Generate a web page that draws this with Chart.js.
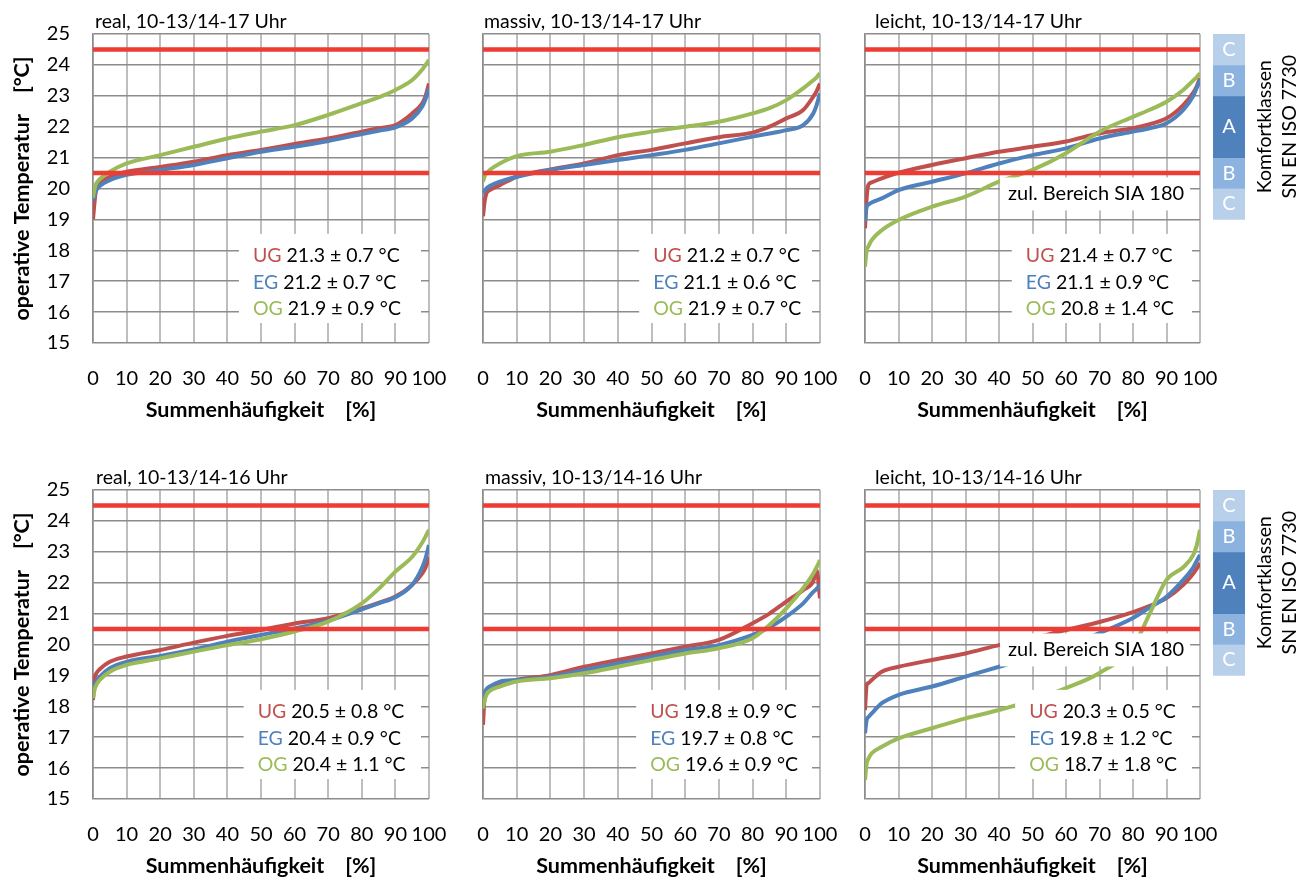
<!DOCTYPE html>
<html>
<head>
<meta charset="utf-8">
<script src="https://cdn.jsdelivr.net/npm/chart.js@4"></script>
<style>
  body { margin: 0; background: #fff; overflow: hidden; width: 1311px; height: 877px; position: relative; }
  .box { position: absolute; }
</style>
</head>
<body>
<div class="box" style="left:0px;top:0px;width:460px;height:430px"><canvas id="c1"></canvas></div>
<div class="box" style="left:440px;top:0px;width:400px;height:430px"><canvas id="c2"></canvas></div>
<div class="box" style="left:820px;top:0px;width:400px;height:430px"><canvas id="c3"></canvas></div>
<div class="box" style="left:1205px;top:0px;width:106px;height:430px"><canvas id="k1"></canvas></div>
<div class="box" style="left:0px;top:456px;width:460px;height:430px"><canvas id="c4"></canvas></div>
<div class="box" style="left:440px;top:456px;width:400px;height:430px"><canvas id="c5"></canvas></div>
<div class="box" style="left:820px;top:456px;width:400px;height:430px"><canvas id="c6"></canvas></div>
<div class="box" style="left:1205px;top:456px;width:106px;height:430px"><canvas id="k2"></canvas></div>
<script>
// Summenhäufigkeit [%]
const PCT = [0, 0.5, 1, 2, 5, 10, 20, 30, 40, 50, 60, 70, 80, 85, 90, 95, 98, 99, 100];

// operative Temperatur [°C], 10-13/14-17 Uhr
const REAL17_UG = [19.0, 19.6, 20.06, 20.2, 20.38, 20.54, 20.7, 20.87, 21.08, 21.25, 21.44, 21.62, 21.84, 21.95, 22.05, 22.43, 22.76, 23.0, 23.4];
const REAL17_EG = [19.6, 19.8, 19.95, 20.08, 20.27, 20.44, 20.6, 20.76, 20.98, 21.19, 21.35, 21.54, 21.76, 21.87, 21.98, 22.27, 22.65, 22.9, 23.24];
const REAL17_OG = [19.7, 20.0, 20.17, 20.3, 20.54, 20.81, 21.08, 21.35, 21.62, 21.84, 22.05, 22.38, 22.76, 22.95, 23.19, 23.51, 23.85, 24.0, 24.16];

const MASSIV17_UG = [19.1, 19.6, 19.84, 19.95, 20.11, 20.38, 20.62, 20.81, 21.08, 21.25, 21.46, 21.66, 21.81, 22.0, 22.27, 22.54, 22.97, 23.15, 23.4];
const MASSIV17_EG = [19.84, 19.92, 20.0, 20.08, 20.22, 20.38, 20.6, 20.76, 20.92, 21.08, 21.25, 21.46, 21.68, 21.78, 21.89, 22.05, 22.43, 22.7, 23.08];
const MASSIV17_OG = [20.22, 20.4, 20.49, 20.6, 20.81, 21.05, 21.19, 21.41, 21.66, 21.84, 22.0, 22.16, 22.43, 22.6, 22.86, 23.24, 23.5, 23.6, 23.73];

const LEICHT17_UG = [18.71, 19.7, 20.11, 20.2, 20.33, 20.51, 20.76, 20.98, 21.19, 21.35, 21.52, 21.79, 21.95, 22.08, 22.27, 22.7, 23.1, 23.3, 23.57];
const LEICHT17_EG = [18.93, 19.41, 19.48, 19.55, 19.68, 19.95, 20.22, 20.49, 20.81, 21.08, 21.3, 21.62, 21.84, 21.95, 22.11, 22.54, 23.0, 23.25, 23.51];
const LEICHT17_OG = [17.47, 18.0, 18.12, 18.33, 18.65, 18.98, 19.41, 19.74, 20.22, 20.6, 21.14, 21.84, 22.32, 22.55, 22.81, 23.19, 23.5, 23.6, 23.73];

// operative Temperatur [°C], 10-13/14-16 Uhr
const REAL16_UG = [18.2, 18.9, 19.07, 19.2, 19.44, 19.61, 19.82, 20.06, 20.28, 20.47, 20.68, 20.85, 21.17, 21.35, 21.55, 21.93, 22.3, 22.5, 22.84];
const REAL16_EG = [18.47, 18.7, 18.8, 18.95, 19.23, 19.44, 19.63, 19.84, 20.09, 20.31, 20.52, 20.77, 21.14, 21.33, 21.53, 21.93, 22.5, 22.8, 23.22];
const REAL16_OG = [18.26, 18.55, 18.69, 18.85, 19.12, 19.34, 19.55, 19.77, 19.98, 20.17, 20.42, 20.74, 21.33, 21.8, 22.36, 22.84, 23.3, 23.5, 23.71];

const MASSIV16_UG = [17.4, 18.31, 18.42, 18.55, 18.69, 18.85, 19.01, 19.28, 19.5, 19.71, 19.93, 20.15, 20.69, 21.0, 21.39, 21.76, 22.05, 22.4, 21.5];
const MASSIV16_EG = [17.99, 18.42, 18.55, 18.64, 18.8, 18.85, 18.96, 19.17, 19.39, 19.6, 19.82, 19.98, 20.31, 20.55, 20.9, 21.33, 21.7, 21.8, 21.93];
const MASSIV16_OG = [17.93, 18.2, 18.37, 18.5, 18.64, 18.8, 18.91, 19.07, 19.28, 19.5, 19.71, 19.88, 20.2, 20.63, 21.17, 21.82, 22.3, 22.5, 22.73];

const LEICHT16_UG = [17.88, 18.69, 18.75, 18.85, 19.12, 19.28, 19.5, 19.71, 19.98, 20.2, 20.47, 20.73, 21.05, 21.25, 21.5, 21.93, 22.3, 22.45, 22.64];
const LEICHT16_EG = [17.13, 17.56, 17.65, 17.77, 18.1, 18.37, 18.64, 18.96, 19.28, 19.6, 19.95, 20.37, 20.86, 21.2, 21.54, 22.09, 22.5, 22.7, 22.9];
const LEICHT16_OG = [15.61, 16.15, 16.3, 16.48, 16.69, 16.96, 17.29, 17.61, 17.88, 18.2, 18.59, 19.08, 19.92, 21.0, 22.09, 22.5, 22.9, 23.2, 23.71];

// Mittelwert ± Standardabweichung
const STATS_REAL17 = ['21.3 ± 0.7 °C', '21.2 ± 0.7 °C', '21.9 ± 0.9 °C'];
const STATS_MASSIV17 = ['21.2 ± 0.7 °C', '21.1 ± 0.6 °C', '21.9 ± 0.7 °C'];
const STATS_LEICHT17 = ['21.4 ± 0.7 °C', '21.1 ± 0.9 °C', '20.8 ± 1.4 °C'];
const STATS_REAL16 = ['20.5 ± 0.8 °C', '20.4 ± 0.9 °C', '20.4 ± 1.1 °C'];
const STATS_MASSIV16 = ['19.8 ± 0.9 °C', '19.7 ± 0.8 °C', '19.6 ± 0.9 °C'];
const STATS_LEICHT16 = ['20.3 ± 0.5 °C', '19.8 ± 1.2 °C', '18.7 ± 1.8 °C'];

const FLOORS = ['UG', 'EG', 'OG'];
const COLORS = ['#c0504d', '#4f81bd', '#9bbb59'];
const LIMITS = [20.5, 24.5];          // zul. Bereich SIA 180
const Y_MIN = 15, Y_MAX = 25;
const X_TICK_STEP = 10;

const COMFORT_CLASSES = ['C', 'B', 'A', 'B', 'C'];
const COMFORT_RANGES = [[24, 25], [23, 24], [21, 23], [20, 21], [19, 20]];
const COMFORT_COLORS = ['#b9d0ea', '#8cb3e0', '#4f81bd', '#8cb3e0', '#b9d0ea'];

const SIA_LABEL = 'zul. Bereich SIA 180';
const SIA_POS = [42.7, 19.84];
const STATS_Y = [17.82, 16.95, 16.1];

Chart.defaults.font.family = 'Lato';
Chart.defaults.color = '#000';

const deco = {
  id: 'deco',
  afterDatasetsDraw(chart, args, o) {
    const { ctx, chartArea: a, scales: { x, y } } = chart;
    ctx.save();
    ctx.font = '19.5px Lato';
    ctx.fillStyle = '#000';
    ctx.textAlign = 'left';
    ctx.textBaseline = 'alphabetic';
    ctx.fillText(o.title, a.left + o.titleDx, a.top - 6);

    ctx.textBaseline = 'middle';
    if (o.sia) {
      ctx.font = '20px Lato';
      const tx = x.getPixelForValue(SIA_POS[0]);
      const ty = y.getPixelForValue(SIA_POS[1]);
      const w = ctx.measureText(SIA_LABEL).width;
      ctx.fillStyle = '#fff';
      ctx.fillRect(tx - 8, ty - 16, w + 14, 33);
      ctx.fillStyle = '#000';
      ctx.fillText(SIA_LABEL, tx, ty);
    }

    ctx.font = '19.5px Lato';
    const sx = x.getPixelForValue(o.statsX);
    const ys = STATS_Y.map(v => y.getPixelForValue(v));
    ctx.fillStyle = '#fff';
    ctx.fillRect(sx - 14, ys[0] - 22, a.right - 8 - (sx - 14), ys[2] - ys[0] + 36);
    o.stats.forEach((s, i) => {
      ctx.fillStyle = COLORS[i];
      ctx.fillText(FLOORS[i], sx, ys[i]);
      const w = ctx.measureText(FLOORS[i] + ' ').width;
      ctx.fillStyle = '#000';
      ctx.fillText(s, sx + w, ys[i]);
    });
    ctx.restore();
  }
};

function makePanel(id, p) {
  const datasets = LIMITS.map(v => ({
    data: [{ x: 0, y: v }, { x: 100, y: v }],
    borderColor: '#ee3b33', borderWidth: 4.5, order: 0
  }));
  p.series.forEach((vals, i) => {
    datasets.push({
      data: PCT.map((pc, j) => ({ x: pc, y: vals[j] })),
      borderColor: COLORS[i], borderWidth: 4,
      cubicInterpolationMode: 'monotone',
      order: 3 - i
    });
  });

  new Chart(document.getElementById(id), {
    type: 'line',
    data: { datasets },
    plugins: [deco],
    options: {
      responsive: true,
      maintainAspectRatio: false,
      animation: false,
      layout: { padding: { top: 34, right: p.padRight, left: 0, bottom: 0 } },
      elements: { point: { radius: 0 } },
      scales: {
        x: {
          type: 'linear', min: 0, max: 100,
          ticks: { stepSize: X_TICK_STEP, autoSkip: false, maxRotation: 0, padding: 24, font: { size: 20 } },
          grid: { color: '#bebebe', lineWidth: 2, drawTicks: false },
          border: { display: false },
          title: { display: true, text: 'Summenhäufigkeit    [%]', font: { size: 21.5, weight: 'bold' }, padding: { top: 0, bottom: 7 } },
          afterFit(s) { s.height = 87; s.paddingLeft = 0; s.paddingRight = 0; }
        },
        y: {
          min: Y_MIN, max: Y_MAX,
          ticks: { display: p.showY, stepSize: 1, padding: 23, font: { size: 20 } },
          grid: { color: '#8c8c8c', lineWidth: 1.5, drawTicks: false },
          border: { display: true, color: '#8c8c8c', width: 1.5 },
          title: { display: p.showY, text: 'operative Temperatur    [°C]', font: { size: 21.5, weight: 'bold' }, padding: { top: 9, bottom: 0 } },
          afterFit(s) { s.width = p.yWidth; s.paddingTop = 0; s.paddingBottom = 0; }
        }
      },
      plugins: {
        legend: { display: false },
        tooltip: { enabled: false },
        deco: { title: p.title, titleDx: p.titleDx, stats: p.stats, statsX: p.statsX, sia: p.sia }
      }
    }
  });
}

const comfortText = {
  id: 'comfortText',
  afterDatasetsDraw(chart) {
    const { ctx, chartArea: a, scales: { y } } = chart;
    ctx.save();
    ctx.font = '20px Lato';
    ctx.textAlign = 'center';
    ctx.textBaseline = 'middle';
    ctx.fillStyle = '#fff';
    COMFORT_RANGES.forEach((r, i) => {
      ctx.fillText(COMFORT_CLASSES[i], (a.left + a.right) / 2, y.getPixelForValue((r[0] + r[1]) / 2));
    });
    const cy = y.getPixelForValue(22);
    ctx.fillStyle = '#000';
    ctx.font = '19.5px Lato';
    [['Komfortklassen', 20], ['SN EN ISO 7730', 45]].forEach(([t, dx]) => {
      ctx.save();
      ctx.translate(a.right + dx, cy);
      ctx.rotate(-Math.PI / 2);
      ctx.fillText(t, 0, 0);
      ctx.restore();
    });
    ctx.restore();
  }
};

function makeComfort(id) {
  new Chart(document.getElementById(id), {
    type: 'bar',
    data: {
      labels: ['K'],
      datasets: COMFORT_RANGES.map((r, i) => ({
        data: [r], backgroundColor: COMFORT_COLORS[i], borderWidth: 0,
        barPercentage: 1, categoryPercentage: 1
      }))
    },
    plugins: [comfortText],
    options: {
      responsive: true,
      maintainAspectRatio: false,
      animation: false,
      layout: { padding: { top: 34, bottom: 87, left: 8, right: 66 } },
      scales: {
        x: { stacked: true, display: false },
        y: { min: Y_MIN, max: Y_MAX, display: false }
      },
      plugins: { legend: { display: false }, tooltip: { enabled: false } }
    }
  });
}

const COL = [
  { yWidth: 93, padRight: 31, showY: true },
  { yWidth: 43, padRight: 20, showY: false },
  { yWidth: 45, padRight: 20, showY: false }
];

makePanel('c1', { ...COL[0], title: 'real, 10-13/14-17 Uhr', titleDx: 2, series: [REAL17_UG, REAL17_EG, REAL17_OG], stats: STATS_REAL17, statsX: 47.6, sia: false });
makePanel('c2', { ...COL[1], title: 'massiv, 10-13/14-17 Uhr', titleDx: 1, series: [MASSIV17_UG, MASSIV17_EG, MASSIV17_OG], stats: STATS_MASSIV17, statsX: 50.5, sia: false });
makePanel('c3', { ...COL[2], title: 'leicht, 10-13/14-17 Uhr', titleDx: 10, series: [LEICHT17_UG, LEICHT17_EG, LEICHT17_OG], stats: STATS_LEICHT17, statsX: 48, sia: true });
makePanel('c4', { ...COL[0], title: 'real, 10-13/14-16 Uhr', titleDx: 3, series: [REAL16_UG, REAL16_EG, REAL16_OG], stats: STATS_REAL16, statsX: 49, sia: false });
makePanel('c5', { ...COL[1], title: 'massiv, 10-13/14-16 Uhr', titleDx: 2, series: [MASSIV16_UG, MASSIV16_EG, MASSIV16_OG], stats: STATS_MASSIV16, statsX: 49.6, sia: false });
makePanel('c6', { ...COL[2], title: 'leicht, 10-13/14-16 Uhr', titleDx: 10, series: [LEICHT16_UG, LEICHT16_EG, LEICHT16_OG], stats: STATS_LEICHT16, statsX: 49, sia: true });
makeComfort('k1');
makeComfort('k2');
</script>
</body>
</html>
